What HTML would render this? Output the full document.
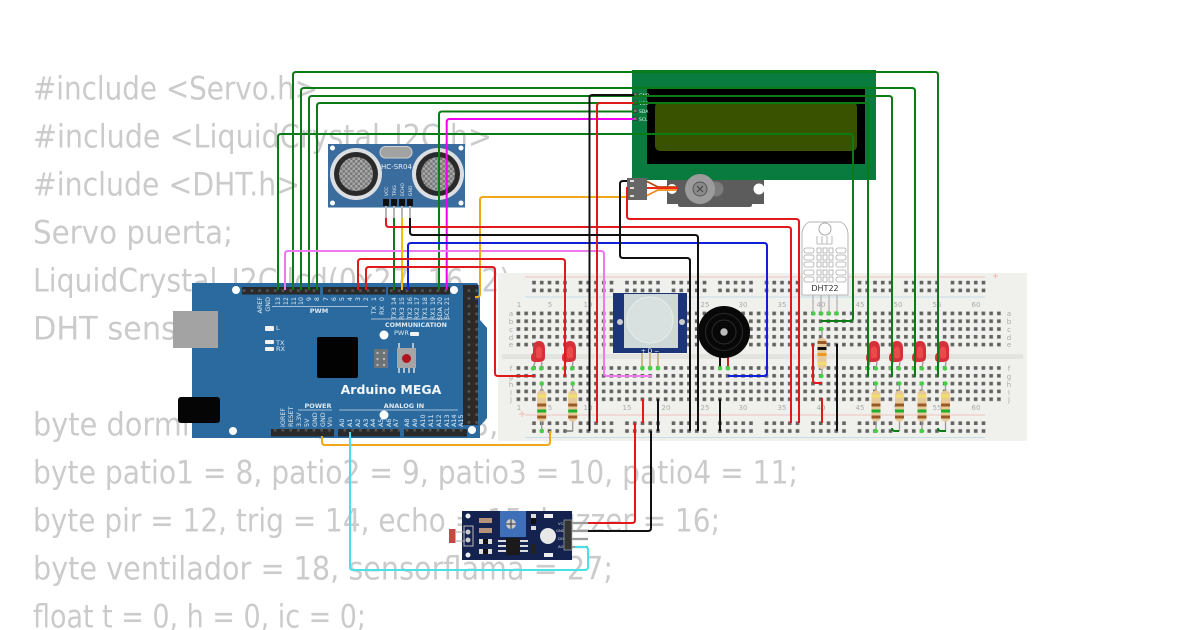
<!DOCTYPE html>
<html><head><meta charset="utf-8"><style>
html,body{margin:0;padding:0;background:#fff;width:1200px;height:630px;overflow:hidden}
svg{display:block}
.c{font-family:"DejaVu Sans",sans-serif;font-size:32px;fill:#cbcbcb}
.w{fill:none;stroke-width:2;stroke-linejoin:round;stroke-linecap:butt}
.p{font-family:"DejaVu Sans",sans-serif;font-size:6.4px;fill:#dfe9f2;text-anchor:end}
.b{font-family:"DejaVu Sans",sans-serif;font-size:6.4px;fill:#dfe9f2;text-anchor:start}
.n{font-family:"DejaVu Sans",sans-serif;font-size:7px;fill:#aaa;text-anchor:middle}
.g{fill:#45d045}
</style></head><body>
<svg width="1200" height="630" viewBox="0 0 1200 630" xmlns="http://www.w3.org/2000/svg">
<defs>
<pattern id="h" patternUnits="userSpaceOnUse" x="514.6" y="309.6" width="7.75" height="7.8"><rect x="2" y="2" width="3.6" height="3.6" fill="#626262"/></pattern>
<pattern id="r" patternUnits="userSpaceOnUse" x="530.4" y="279" width="46.5" height="7.8"><rect x="1.8" y="1.8" width="3.6" height="3.6" fill="#626262"/><rect x="9.55" y="1.8" width="3.6" height="3.6" fill="#626262"/><rect x="17.3" y="1.8" width="3.6" height="3.6" fill="#626262"/><rect x="25.05" y="1.8" width="3.6" height="3.6" fill="#626262"/><rect x="32.8" y="1.8" width="3.6" height="3.6" fill="#626262"/></pattern>
<pattern id="r2" patternUnits="userSpaceOnUse" x="530.4" y="419.6" width="46.5" height="7.8"><rect x="1.8" y="1.8" width="3.6" height="3.6" fill="#626262"/><rect x="9.55" y="1.8" width="3.6" height="3.6" fill="#626262"/><rect x="17.3" y="1.8" width="3.6" height="3.6" fill="#626262"/><rect x="25.05" y="1.8" width="3.6" height="3.6" fill="#626262"/><rect x="32.8" y="1.8" width="3.6" height="3.6" fill="#626262"/></pattern>
<pattern id="hd" patternUnits="userSpaceOnUse" width="7.75" height="7.75"><rect width="7.75" height="7.75" fill="#2a2a2a"/><rect x="2.6" y="2.6" width="2.6" height="2.6" fill="#555"/></pattern>
<pattern id="mesh" patternUnits="userSpaceOnUse" width="5" height="5"><rect width="5" height="5" fill="#787878"/><rect width="2.5" height="2.5" fill="#a8a8a8"/><rect x="2.5" y="2.5" width="2.5" height="2.5" fill="#a8a8a8"/></pattern>
<g id="led"><path d="M-3 20 L-5 26 M4 20 L3 26" stroke="#999" stroke-width="1.3" fill="none"/><path d="M-5 7 Q-5 -1 1 -1 Q7 -1 7 7 V15 Q7 20 1 20 H-3 Q-7 20 -7 16 Q-7 12 -5 11 Z" fill="#d8303a"/><path d="M-2 7 Q1 2 4 7 V15 Q1 18 -2 15 Z" fill="#ea4a4a"/><circle class="g" cx="-5" cy="26.5" r="2.2"/><circle class="g" cx="3" cy="26.5" r="2.2"/></g>
<g id="res"><line x1="0" y1="0" x2="0" y2="48" stroke="#999" stroke-width="1.3"/><rect x="-4.5" y="7" width="9" height="31" rx="4" fill="#e8c99a"/><rect x="-4.5" y="11" width="9" height="3.2" fill="#f2de70"/><rect x="-4.5" y="20" width="9" height="3" fill="#9a5a28"/><rect x="-4.5" y="26" width="9" height="3" fill="#1fb030"/><rect x="-4.5" y="32" width="9" height="3" fill="#9a5a28"/><circle class="g" cx="0" cy="0" r="2.2"/></g>
</defs>

<text class="c" x="33" y="99.5" textLength="285" lengthAdjust="spacingAndGlyphs">#include &lt;Servo.h&gt;</text>
<text class="c" x="33" y="147.5" textLength="459" lengthAdjust="spacingAndGlyphs">#include &lt;LiquidCrystal_I2C.h&gt;</text>
<text class="c" x="33" y="195.5" textLength="267" lengthAdjust="spacingAndGlyphs">#include &lt;DHT.h&gt;</text>
<text class="c" x="33" y="243.5" textLength="200" lengthAdjust="spacingAndGlyphs">Servo puerta;</text>
<text class="c" x="33" y="291.5" textLength="487" lengthAdjust="spacingAndGlyphs">LiquidCrystal_I2C lcd(0x27, 16, 2);</text>
<text class="c" x="33" y="339.5" textLength="370" lengthAdjust="spacingAndGlyphs">DHT sensor(13, DHT22);</text>
<text class="c" x="33" y="435.5" textLength="960" lengthAdjust="spacingAndGlyphs">byte dormitorio = 2, cocina = 3, bano = 4, sala = 5, comedor = 6;</text>
<text class="c" x="33" y="483.5" textLength="765" lengthAdjust="spacingAndGlyphs">byte patio1 = 8, patio2 = 9, patio3 = 10, patio4 = 11;</text>
<text class="c" x="33" y="531.5" textLength="687" lengthAdjust="spacingAndGlyphs">byte pir = 12, trig = 14, echo = 15, buzzer = 16;</text>
<text class="c" x="33" y="579.5" textLength="580" lengthAdjust="spacingAndGlyphs">byte ventilador = 18, sensorflama = 27;</text>
<text class="c" x="33" y="627.5" textLength="333" lengthAdjust="spacingAndGlyphs">float t = 0, h = 0, ic = 0;</text>

<!-- breadboard -->
<rect x="498" y="273" width="529" height="168" fill="#f0f0ed"/>
<rect x="502" y="354" width="521" height="5" fill="#e3e3df"/>
<path d="M525 277H985M525 415H985" stroke="#eec5bd" stroke-width="1"/>
<path d="M525 297H985M525 437.5H985" stroke="#c5dde6" stroke-width="1"/>
<rect x="514.6" y="309.6" width="488" height="39" fill="url(#h)"/>
<rect x="514.6" y="364.4" width="488" height="39" fill="url(#h)"/>
<rect x="530.4" y="279" width="456" height="15.6" fill="url(#r)"/>
<rect x="530.4" y="419.6" width="456" height="15.6" fill="url(#r2)"/>
<g>
<text class="n" x="519" y="307">1</text><text class="n" x="550" y="307">5</text><text class="n" x="588" y="307">10</text><text class="n" x="627" y="307">15</text><text class="n" x="666" y="307">20</text><text class="n" x="705" y="307">25</text><text class="n" x="743" y="307">30</text><text class="n" x="782" y="307">35</text><text class="n" x="821" y="307">40</text><text class="n" x="860" y="307">45</text><text class="n" x="898" y="307">50</text><text class="n" x="937" y="307">55</text><text class="n" x="976" y="307">60</text>
<text class="n" x="519" y="410">1</text><text class="n" x="550" y="410">5</text><text class="n" x="588" y="410">10</text><text class="n" x="627" y="410">15</text><text class="n" x="666" y="410">20</text><text class="n" x="705" y="410">25</text><text class="n" x="743" y="410">30</text><text class="n" x="782" y="410">35</text><text class="n" x="821" y="410">40</text><text class="n" x="860" y="410">45</text><text class="n" x="898" y="410">50</text><text class="n" x="937" y="410">55</text><text class="n" x="976" y="410">60</text>
<text class="n" x="511" y="316">a</text><text class="n" x="511" y="324">b</text><text class="n" x="511" y="332">c</text><text class="n" x="511" y="340">d</text><text class="n" x="511" y="347">e</text><text class="n" x="511" y="371">f</text><text class="n" x="511" y="379">g</text><text class="n" x="511" y="387">h</text><text class="n" x="511" y="395">i</text><text class="n" x="511" y="402">j</text>
<text class="n" x="1009" y="316">a</text><text class="n" x="1009" y="324">b</text><text class="n" x="1009" y="332">c</text><text class="n" x="1009" y="340">d</text><text class="n" x="1009" y="347">e</text><text class="n" x="1009" y="371">f</text><text class="n" x="1009" y="379">g</text><text class="n" x="1009" y="387">h</text><text class="n" x="1009" y="395">i</text><text class="n" x="1009" y="402">j</text>
</g>
<path d="M993 276h5M995.500 273.500v5M519 414h6M522 411v6" stroke="#eebbb0" stroke-width="1"/>

<!-- arduino -->
<path d="M192 283H477L480 287V320L487 328V418L480 426V438H192Z" fill="#2a6a9e"/>
<rect x="173" y="311" width="45" height="37" fill="#a3a3a3"/>
<rect x="178" y="397" width="42" height="26" rx="3" fill="#050505"/>
<rect x="242" y="287" width="78" height="7.500" fill="url(#hd)"/>
<rect x="323" y="287" width="63" height="7.500" fill="url(#hd)"/>
<rect x="388" y="287" width="62" height="7.500" fill="url(#hd)"/>
<rect x="463" y="285" width="15" height="140" fill="url(#hd)"/>
<rect x="271" y="429" width="63" height="7.500" fill="url(#hd)"/>
<rect x="338" y="429" width="62" height="7.500" fill="url(#hd)"/>
<rect x="404" y="429" width="63" height="7.500" fill="url(#hd)"/>
<g fill="#fff"><circle cx="236" cy="290" r="4"/><circle cx="454" cy="290" r="4"/><circle cx="233" cy="431" r="4"/><circle cx="472" cy="430" r="4"/><circle cx="384" cy="335" r="4.500"/><circle cx="384" cy="415" r="4.500"/></g>
<rect x="317" y="337" width="41" height="41" rx="2" fill="#020202"/>
<rect x="374" y="349" width="14" height="19" fill="#6d7478"/>
<g fill="#b9b9b9"><circle cx="377.500" cy="353" r="1.200"/><circle cx="384" cy="353" r="1.200"/><circle cx="377.500" cy="359" r="1.200"/><circle cx="384" cy="359" r="1.200"/><circle cx="377.500" cy="365" r="1.200"/><circle cx="384" cy="365" r="1.200"/></g>
<path d="M399 343v5M413 343v5M399 368v5M404 368v5M409 368v5M414 368v5" stroke="#ddd" stroke-width="1.500"/>
<rect x="397" y="348" width="19" height="20" fill="#a5a5a5"/><circle cx="406.500" cy="358.500" r="4.500" fill="#b01420"/>
<g fill="#f2f2f2"><rect x="265" y="326" width="9" height="5" rx="1"/><rect x="265" y="340" width="9" height="4" rx="1"/><rect x="265" y="347" width="9" height="4" rx="1"/><rect x="410" y="332" width="9" height="4" rx="1"/></g>
<g font-family="DejaVu Sans,sans-serif" fill="#dfe9f2" font-size="6.500">
<text x="276" y="330">L</text><text x="276" y="345">TX</text><text x="276" y="351">RX</text><text x="394" y="335" font-size="6.500">PWR</text>
<text x="319" y="313" font-weight="bold" text-anchor="middle">PWM</text>
<text x="416" y="327" font-weight="bold" text-anchor="middle" textLength="62" lengthAdjust="spacingAndGlyphs">COMMUNICATION</text>
<text x="318" y="408" font-weight="bold" text-anchor="middle">POWER</text>
<text x="404" y="408" font-weight="bold" text-anchor="middle">ANALOG IN</text>
<text x="391" y="394" font-size="12.500" font-weight="bold" text-anchor="middle" fill="#f4f7fa">Arduino MEGA</text>
</g>
<path d="M272 306.500H368M371 319H450M298 410H332M339 410H458" stroke="#cfdce8" stroke-width=".8" fill="none"/>
<g>
<text class="p" transform="translate(262,297) rotate(-90)">AREF</text><text class="p" transform="translate(270,297) rotate(-90)">GND</text><text class="p" transform="translate(280,297) rotate(-90)">13</text><text class="p" transform="translate(288,297) rotate(-90)">12</text><text class="p" transform="translate(296,297) rotate(-90)">11</text><text class="p" transform="translate(303,297) rotate(-90)">10</text><text class="p" transform="translate(311,297) rotate(-90)">9</text><text class="p" transform="translate(319,297) rotate(-90)">8</text><text class="p" transform="translate(328,297) rotate(-90)">7</text><text class="p" transform="translate(336,297) rotate(-90)">6</text><text class="p" transform="translate(344,297) rotate(-90)">5</text><text class="p" transform="translate(352,297) rotate(-90)">4</text><text class="p" transform="translate(360,297) rotate(-90)">3</text><text class="p" transform="translate(368,297) rotate(-90)">2</text><text class="p" transform="translate(376,297) rotate(-90)">1</text><text class="p" transform="translate(384,297) rotate(-90)">0</text>
<text class="p" transform="translate(376,306) rotate(-90)">TX</text><text class="p" transform="translate(384,306) rotate(-90)">RX</text>
<text class="p" transform="translate(396,297) rotate(-90)">TX3 14</text><text class="p" transform="translate(404,297) rotate(-90)">RX3 15</text><text class="p" transform="translate(412,297) rotate(-90)">TX2 16</text><text class="p" transform="translate(419,297) rotate(-90)">RX2 17</text><text class="p" transform="translate(427,297) rotate(-90)">TX1 18</text><text class="p" transform="translate(435,297) rotate(-90)">RX1 19</text><text class="p" transform="translate(442,297) rotate(-90)">SDA 20</text><text class="p" transform="translate(449,297) rotate(-90)">SCL 21</text>
<text class="b" transform="translate(285,427) rotate(-90)">IOREF</text><text class="b" transform="translate(293,427) rotate(-90)">RESET</text><text class="b" transform="translate(301,427) rotate(-90)">3.3V</text><text class="b" transform="translate(309,427) rotate(-90)">5V</text><text class="b" transform="translate(317,427) rotate(-90)">GND</text><text class="b" transform="translate(325,427) rotate(-90)">GND</text><text class="b" transform="translate(332,427) rotate(-90)">Vin</text>
<text class="b" transform="translate(344,427) rotate(-90)">A0</text><text class="b" transform="translate(352,427) rotate(-90)">A1</text><text class="b" transform="translate(360,427) rotate(-90)">A2</text><text class="b" transform="translate(368,427) rotate(-90)">A3</text><text class="b" transform="translate(375,427) rotate(-90)">A4</text><text class="b" transform="translate(383,427) rotate(-90)">A5</text><text class="b" transform="translate(391,427) rotate(-90)">A6</text><text class="b" transform="translate(398,427) rotate(-90)">A7</text>
<text class="b" transform="translate(409,427) rotate(-90)">A8</text><text class="b" transform="translate(417,427) rotate(-90)">A9</text><text class="b" transform="translate(425,427) rotate(-90)">A10</text><text class="b" transform="translate(433,427) rotate(-90)">A11</text><text class="b" transform="translate(441,427) rotate(-90)">A12</text><text class="b" transform="translate(449,427) rotate(-90)">A13</text><text class="b" transform="translate(456,427) rotate(-90)">A14</text><text class="b" transform="translate(463,427) rotate(-90)">A15</text>
</g>

<!-- HC-SR04 -->
<rect x="328" y="144" width="137" height="63.500" fill="#3a6c9e"/>
<g fill="#fff"><circle cx="332.500" cy="148" r="2.500"/><circle cx="461" cy="148" r="2.500"/><circle cx="332.500" cy="203" r="2.500"/><circle cx="461" cy="203" r="2.500"/></g>
<circle cx="356" cy="174" r="26" fill="#dcdfe2"/><circle cx="356" cy="174" r="22" fill="#2a2a2a"/><circle cx="356" cy="174" r="17" fill="url(#mesh)"/>
<circle cx="438" cy="174" r="26" fill="#dcdfe2"/><circle cx="438" cy="174" r="22" fill="#2a2a2a"/><circle cx="438" cy="174" r="17" fill="url(#mesh)"/>
<rect x="380" y="146.500" width="32" height="11.500" rx="5.500" fill="#a2a2a2" stroke="#cfcfcf"/>
<text x="396.500" y="169" text-anchor="middle" font-family="DejaVu Sans,sans-serif" font-size="7" fill="#e8eef4">HC-SR04</text>
<g font-family="DejaVu Sans,sans-serif" font-size="4.500" fill="#e8eef4"><text transform="translate(388,196) rotate(-90)">VCC</text><text transform="translate(396,196) rotate(-90)">TRIG</text><text transform="translate(404,196) rotate(-90)">ECHO</text><text transform="translate(412,196) rotate(-90)">GND</text></g>
<path d="M386 205V220M394 205V220M402 205V220M410 205V220" stroke="#b5b5b5" stroke-width="2"/>
<g fill="#111"><rect x="383" y="199" width="6" height="7"/><rect x="391" y="199" width="6" height="7"/><rect x="399" y="199" width="6" height="7"/><rect x="407" y="199" width="6" height="7"/></g>

<!-- LCD -->
<rect x="632" y="70" width="244" height="110" fill="#0a7b3e"/>
<rect x="632" y="70" width="244" height="3" fill="#0a7a28"/>
<rect x="647" y="88" width="218" height="76" fill="#000"/>
<rect x="655" y="102" width="202" height="49" rx="5" fill="#385200"/>
<g fill="#777" stroke="#333" stroke-width=".7"><rect x="633.500" y="93" width="3.500" height="3.500"/><rect x="633.500" y="101" width="3.500" height="3.500"/><rect x="633.500" y="109" width="3.500" height="3.500"/><rect x="633.500" y="117" width="3.500" height="3.500"/></g>
<g font-family="DejaVu Sans,sans-serif" font-size="4.500" fill="#e8f2ec"><text x="639" y="97">GND</text><text x="639" y="105">VCC</text><text x="639" y="113">SDA</text><text x="639" y="121">SCL</text></g>

<!-- servo -->
<path d="M667 180H764V204H752V205Q752 207 749 207H681Q678 207 678 205V204H667Z" fill="#5c5c5c"/>
<circle cx="716" cy="189" r="7.500" fill="#7c7c7c"/>
<circle cx="700" cy="189" r="15" fill="#9c9c9c"/><circle cx="700" cy="189" r="7" fill="#8a8a8a" stroke="#555"/>
<path d="M697 186l6 6M703 186l-6 6" stroke="#444"/>
<circle cx="672" cy="189" r="5" fill="#fff"/><circle cx="759" cy="189" r="5.500" fill="#fff"/>
<path d="M646 181L658 187H677" stroke="#b34a10" stroke-width="1.800" fill="none"/>
<path d="M646 188H677" stroke="#ee2a10" stroke-width="2" fill="none"/>
<path d="M646 196L658 190H677" stroke="#f08a18" stroke-width="1.800" fill="none"/>
<rect x="627" y="178" width="20" height="22" fill="#666"/>
<g fill="#ddd"><rect x="630" y="180" width="4" height="2"/><rect x="630" y="187" width="4" height="2"/><rect x="630" y="195" width="4" height="2"/></g>

<!-- DHT22 -->
<path d="M813 313.500V295M821 313.500V295M829 313.500V295M837 313.500V295" stroke="#bbb" stroke-width="1.500"/>
<path d="M802 295V235Q802 226 809 222H841Q848 226 848 235V295Z" fill="#fff" stroke="#b5b5b5"/>
<circle cx="825" cy="229" r="6" fill="#fff" stroke="#aaa"/>
<g fill="none" stroke="#aaa" stroke-width=".8">
<path d="M817 244V236M822 244V236M827 244V236M832 244V236M817 244H832"/>
<rect x="804" y="248" width="10" height="5" rx="2"/><rect x="836" y="248" width="10" height="5" rx="2"/><rect x="804" y="255" width="10" height="5" rx="2"/><rect x="836" y="255" width="10" height="5" rx="2"/><rect x="804" y="262" width="10" height="5" rx="2"/><rect x="836" y="262" width="10" height="5" rx="2"/><rect x="804" y="270" width="10" height="5" rx="2"/><rect x="836" y="270" width="10" height="5" rx="2"/><rect x="804" y="277" width="10" height="5" rx="2"/><rect x="836" y="277" width="10" height="5" rx="2"/>
<rect x="817" y="248" width="4" height="5"/><rect x="823" y="248" width="4" height="5"/><rect x="829" y="248" width="4" height="5"/><rect x="817" y="255" width="4" height="5"/><rect x="823" y="255" width="4" height="5"/><rect x="829" y="255" width="4" height="5"/><rect x="817" y="262" width="4" height="5"/><rect x="823" y="262" width="4" height="5"/><rect x="829" y="262" width="4" height="5"/><rect x="817" y="270" width="4" height="5"/><rect x="823" y="270" width="4" height="5"/><rect x="829" y="270" width="4" height="5"/><rect x="817" y="277" width="4" height="5"/><rect x="823" y="277" width="4" height="5"/><rect x="829" y="277" width="4" height="5"/>
</g>
<text x="825" y="291" text-anchor="middle" font-family="DejaVu Sans,sans-serif" font-size="8" fill="#333">DHT22</text>
<circle class="g" cx="813.500" cy="313.500" r="2.200"/><circle class="g" cx="821.300" cy="313.500" r="2.200"/><circle class="g" cx="829" cy="313.500" r="2.200"/><circle class="g" cx="836.800" cy="313.500" r="2.200"/>

<!-- PIR -->
<path d="M642 353V368M650 353V368M658 353V368" stroke="#c8b98a" stroke-width="2"/>
<rect x="613" y="293" width="74" height="60" fill="#1b3578"/>
<rect x="624" y="294" width="54" height="54" fill="#ced8d8"/>
<circle cx="650" cy="320" r="23" fill="#d8e0e0" stroke="#e6ecec"/>
<circle cx="620" cy="322" r="3" fill="#ccc"/><circle cx="682" cy="322" r="3" fill="#ccc"/>
<text x="650" y="353" text-anchor="middle" font-family="DejaVu Sans,sans-serif" font-size="6" fill="#fff">+  D  −</text>
<circle class="g" cx="642.300" cy="368.300" r="2.200"/><circle class="g" cx="650" cy="368.300" r="2.200"/><circle class="g" cx="658" cy="368.300" r="2.200"/>

<!-- buzzer -->
<path d="M720 355V368" stroke="#111" stroke-width="2"/><path d="M728 355V368" stroke="#c8281e" stroke-width="2"/>
<circle cx="724" cy="332" r="26" fill="#080808"/><circle cx="724" cy="332" r="18.500" fill="none" stroke="#2a2a2a"/><circle cx="724" cy="332" r="12" fill="none" stroke="#2a2a2a"/><circle cx="724" cy="332" r="3.700" fill="#bbb"/>
<circle class="g" cx="720" cy="368.300" r="2.200"/><circle class="g" cx="728" cy="368.300" r="2.200"/>

<!-- LEDs + resistors -->
<use href="#led" x="538" y="342"/><use href="#led" x="569" y="342"/>
<use href="#led" x="873" y="342"/><use href="#led" x="896" y="342"/><use href="#led" x="919" y="342"/><use href="#led" x="942" y="342"/>
<use href="#res" x="541.700" y="383.500"/><use href="#res" x="572.700" y="383.500"/>
<use href="#res" x="876" y="383.500"/><use href="#res" x="899.500" y="383.500"/><use href="#res" x="922" y="383.500"/><use href="#res" x="945.500" y="383.500"/>
<circle class="g" cx="541.700" cy="431" r="2.200"/><circle class="g" cx="876" cy="431" r="2.200"/><circle class="g" cx="922" cy="431" r="2.200"/>
<path d="M572.700 431H565" stroke="#777" stroke-width="1.500"/>
<!-- vertical resistor -->
<line x1="822" y1="329" x2="822" y2="376" stroke="#999" stroke-width="1.300"/>
<rect x="817.500" y="338" width="9" height="31" rx="4" fill="#e8c99a"/><rect x="817.500" y="341" width="9" height="3" fill="#9a5a28"/><rect x="817.500" y="347" width="9" height="3" fill="#111"/><rect x="817.500" y="353" width="9" height="3" fill="#ea9a20"/><rect x="817.500" y="362" width="9" height="3" fill="#f2de70"/>
<circle class="g" cx="821.500" cy="329" r="2.200"/><circle class="g" cx="821.500" cy="376" r="2.200"/>

<!-- light sensor -->
<path d="M572 523H588M572 531H588M572 539H588M572 547H588" stroke="#9a9a9a" stroke-width="2.200"/>
<rect x="462" y="511" width="110" height="49" fill="#13224f"/>
<rect x="449" y="529" width="6.500" height="14" fill="#c24a3f"/>
<path d="M455 532H465M455 541H465" stroke="#aaa" stroke-width="1"/>
<rect x="464" y="526" width="9" height="20" fill="none" stroke="#bbb"/><circle cx="468" cy="532" r="2.500" fill="#ccc"/><circle cx="468" cy="540" r="2.500" fill="#ccc"/>
<circle cx="468" cy="516" r="2.500" fill="#eee"/><circle cx="468" cy="555" r="2.500" fill="#eee"/>
<rect x="500" y="511" width="26" height="26" fill="#3f6fb8"/><circle cx="511" cy="524" r="5" fill="#c8ccd2"/><path d="M506 524h10M511 519v10" stroke="#333"/>
<g fill="#b5937a"><rect x="479" y="518" width="13" height="5"/><rect x="479" y="528" width="13" height="5"/></g>
<g fill="#ddd"><rect x="479" y="539" width="13" height="5"/><rect x="479" y="549" width="13" height="5"/></g>
<rect x="483" y="539" width="5" height="5" fill="#111"/><rect x="483" y="549" width="5" height="5" fill="#111"/>
<rect x="506" y="538" width="14" height="17" fill="#1a1a1a"/>
<path d="M498 541h8M498 546h8M498 551h8M520 541h8M520 546h8M520 551h8" stroke="#ddd" stroke-width="2"/>
<rect x="531" y="514" width="5" height="4" fill="#ddd"/><rect x="531" y="518" width="5" height="6" fill="#111"/><rect x="531" y="526" width="5" height="4" fill="#ddd"/>
<rect x="531" y="544" width="5" height="10" fill="#222"/>
<circle cx="548" cy="536" r="8" fill="#e8e8e8"/>
<rect x="544" y="514" width="9" height="4" fill="#eee"/><rect x="544" y="553" width="9" height="4" fill="#eee"/>
<g font-family="DejaVu Sans,sans-serif" font-size="3.800" fill="#ddd"><text x="558" y="525">VCC</text><text x="556" y="532">GND</text><text x="558" y="540">DO</text><text x="558" y="548">AO</text></g>
<rect x="564" y="520" width="8" height="30" fill="#333" stroke="#aaa" stroke-width=".7"/>

<!-- wires -->
<g class="w">
<g stroke="#0b7c15">
<path d="M278 290V137Q278 134 281 134H850Q853 134 853 137V318Q853 321 850 321H821"/>
<path d="M293 290V75Q293 72 296 72H935Q938 72 938 75V377"/>
<path d="M301 290V91Q301 88 304 88H912Q915 88 915 91V377"/>
<path d="M309 290V99Q309 96 312 96H889Q892 96 892 99V377"/>
<path d="M317 290V106Q317 103 320 103H865Q868 103 868 106V377"/>
<path d="M439 290V114.500Q439 111.500 442 111.500H634"/>
<path d="M394 290V218"/>
<path d="M899 431H895Q892 431 892 428"/><path d="M946 431H941Q938 431 938 428"/>
</g>
<path stroke="#f000f0" d="M446.700 290V122Q446.700 119 449.700 119H634"/>
<path stroke="#ee78ee" d="M285 290V254Q285 251 288 251H601Q604 251 604 254V373Q604 376 607 376H652"/>
<path stroke="#f0c000" d="M402 290V218"/>
<path stroke="#f0a818" d="M475 297H477Q480 297 480 294V200Q480 197 483 197H627"/>
<path stroke="#f0a818" d="M322 436V442Q322 445 325 445H547Q550 445 550 442V431"/>
<path stroke="#1020d8" d="M408 290V246Q408 243 411 243H764Q767 243 767 246V373Q767 376 764 376H728"/>
<g stroke="#e01a1a">
<path d="M358 290V262Q358 259 361 259H562Q565 259 565 262V377"/>
<path d="M366 290V270Q366 267 369 267H492Q495 267 495 270V373Q495 376 498 376H535"/>
<path d="M386 218V224Q386 227 389 227H788Q791 227 791 230V423"/>
<path d="M627 187V216Q627 219 630 219H796Q799 219 799 222V423"/>
<path d="M634 103H600Q597 103 597 106V423"/>
<path d="M643 399V423"/>
<path d="M635 423V520Q635 523 632 523H588"/>
<path d="M813 344V380Q813 383 816 383H822"/>
<path d="M822 398V423"/>
</g>
<g stroke="#111">
<path d="M634 95H592.500Q589.500 95 589.500 98V431"/>
<path d="M410 218V232Q410 235 413 235H695Q698 235 698 238V431"/>
<path d="M627 181H623Q620 181 620 184V255Q620 258 623 258H687Q690 258 690 261V431"/>
<path d="M658 399V431"/>
<path d="M720 399V431"/>
<path d="M837 344V431"/>
<path d="M651 431V528Q651 531 648 531H588"/>
</g>
<path stroke="#46e2ea" d="M350 432V567Q350 570 353 570H585Q588 570 588 567V550Q588 547 585 547H575"/>
</g>
</svg>
</body></html>
